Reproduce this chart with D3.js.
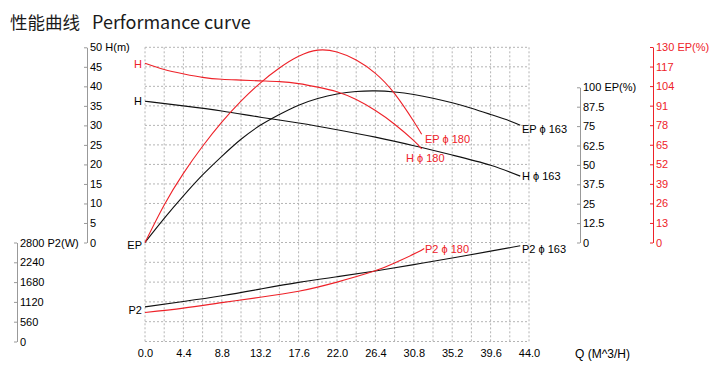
<!DOCTYPE html>
<html>
<head>
<meta charset="utf-8">
<script src="https://cdn.jsdelivr.net/npm/d3@7"></script>
<style>
  body { margin: 0; background: #fff; }
  text { font-family: "Liberation Sans", Arial, sans-serif; }
</style>
</head>
<body>
<div class="chart"></div>
<script>
// chart size
var width = 725;
var height = 372;
var red = "#ee2229";

// x ticks
var qTicks = [0, 4.4, 8.8, 13.2, 17.6, 22, 26.4, 30.8, 35.2, 39.6, 44];
var hTicks = [0, 5, 10, 15, 20, 25, 30, 35, 40, 45, 50];
var epTicks = [0, 12.5, 25, 37.5, 50, 62.5, 75, 87.5, 100];
var epRedTicks = [0, 13, 26, 39, 52, 65, 78, 91, 104, 117, 130];
var p2Ticks = [0, 560, 1120, 1680, 2240, 2800];

// phi 163 curves
var qH163 = [0, 4.4, 8.8, 13.2, 17.6, 22, 26.4, 30.8, 35.2, 39.6, 43];
var h163 = [36.2, 35.0, 33.7, 32.1, 30.6, 28.9, 27.0, 24.8, 22.4, 19.8, 17.0];
var qEP163 = [0, 2.2, 4.4, 6.6, 8.8, 11, 13.2, 15.4, 17.6, 19.8, 22, 24.2, 26.4, 28.6, 30.8, 33, 35.2, 37.4, 39.6, 41.8, 43];
var ep163 = [0, 15.5, 30, 43.5, 55.5, 66.5, 75.5, 82.5, 88.5, 92.8, 95.7, 97.3, 97.7, 97, 95.4, 93, 90, 86.5, 82.5, 78.3, 75.5];
var qP163 = [0, 4.4, 8.8, 13.2, 17.6, 22, 26.4, 30.8, 35.2, 39.6, 43];
var p163 = [980, 1131, 1293, 1482, 1671, 1831, 1995, 2174, 2360, 2556, 2706];

// phi 180 curves
var qH180 = [0, 2.2, 4.4, 6.6, 8.8, 11, 13.2, 15.4, 17.6, 19.8, 22, 24.2, 26.4, 28.6, 30.8, 31.7];
var h180 = [45.9, 44.3, 43.2, 42.3, 41.8, 41.6, 41.4, 41.2, 40.7, 39.8, 38.6, 36.6, 33.8, 30.3, 26.1, 24.0];
var qEP180 = [0, 2.2, 4.4, 6.6, 8.8, 11, 13.2, 15.4, 17.6, 19.8, 22, 24.2, 26.4, 28.6, 30.8, 31.7];
var ep180 = [0, 25, 46, 64, 80, 94, 106, 116, 123.8, 127.9, 126.7, 121.3, 112.5, 99, 80.5, 72];
var qP180 = [0, 4.4, 8.8, 13.2, 17.6, 22, 26.2, 28.6, 31.1, 32];
var p180 = [819, 944, 1100, 1250, 1420, 1680, 1984, 2220, 2507, 2630];

var svg = d3.select(".chart")
            .append("svg")
            .attr("width", width)
            .attr("height", height);

// scales
var x = d3.scaleLinear().domain([0, 44]).range([145, 529]);
var yH = d3.scaleLinear().domain([0, 50]).range([242.5, 47.3]);
var yEP = d3.scaleLinear().domain([0, 100]).range([242.5, 87.3]);
var yEPr = d3.scaleLinear().domain([0, 130]).range([242.5, 47]);
var yP2 = d3.scaleLinear().domain([0, 2800]).range([341.5, 242.5]);

// title
svg.append("text")
   .attr("x", 10).attr("y", 29)
   .style("font-family", "'Noto Sans CJK SC', sans-serif")
   .style("font-size", "17.5px")
   .attr("fill", "#1a1a1a")
   .text("性能曲线");
svg.append("text")
   .attr("x", 92).attr("y", 29)
   .style("font-family", "'Noto Sans CJK SC', 'Noto Sans', sans-serif")
   .style("font-size", "18px")
   .attr("fill", "#1a1a1a")
   .text("Performance curve");

// grid
var grid = svg.append("g").attr("stroke", "#b4b4b4").attr("stroke-dasharray", "2,2").attr("stroke-width", 1);
d3.range(0, 44.01, 2.2).forEach(function(q) {
  grid.append("line")
      .attr("x1", x(q)).attr("x2", x(q))
      .attr("y1", yH(50)).attr("y2", yP2(0));
});
hTicks.forEach(function(h) {
  grid.append("line").attr("x1", x(0)).attr("x2", x(44)).attr("y1", yH(h)).attr("y2", yH(h));
});
p2Ticks.slice(0, 5).forEach(function(p) {
  grid.append("line").attr("x1", x(0)).attr("x2", x(44)).attr("y1", yP2(p)).attr("y2", yP2(p));
});

// axes, ticks on the left, labels on the right
function sideAxis(scale, ticks, unit, xpos, color) {
  var ax = d3.axisRight(scale)
             .tickValues(ticks)
             .tickSizeInner(-3)
             .tickSizeOuter(0)
             .tickPadding(3)
             .tickFormat(function(d, i) {
               return i == ticks.length - 1 ? d + " " + unit : d;
             });
  var g = svg.append("g")
             .attr("transform", "translate(" + xpos + ",0)")
             .call(ax);
  g.select(".domain").attr("stroke", color == "#000" ? "#999" : color);
  g.selectAll(".tick line").attr("stroke", color == "#000" ? "#999" : color);
  g.selectAll("text").attr("fill", color).style("font-size", "11px");
  return g;
}
sideAxis(yH, hTicks, "H(m)", 87, "#000");
sideAxis(yP2, p2Ticks, "P2(W)", 17, "#000");
sideAxis(yEP, epTicks, "EP(%)", 580, "#000");
sideAxis(yEPr, epRedTicks, "EP(%)", 653, red);

var xAxis = d3.axisBottom(x)
              .tickValues(qTicks)
              .tickSize(0)
              .tickPadding(8)
              .tickFormat(d3.format(".1f"));
var gx = svg.append("g")
            .attr("transform", "translate(0," + yP2(0) + ")")
            .call(xAxis);
gx.select(".domain").remove();
gx.selectAll("text").attr("fill", "#000").style("font-size", "11px");
svg.append("text")
   .attr("x", 575).attr("y", 358)
   .style("font-size", "12px")
   .text("Q (M^3/H)");

// curves
function curve(qs, vs, yScale, color) {
  var pts = qs.map(function(q, i) { return [q, vs[i]]; });
  var line = d3.line()
               .x(function(d) { return x(d[0]); })
               .y(function(d) { return yScale(d[1]); })
               .curve(d3.curveNatural);
  svg.append("path")
     .datum(pts)
     .attr("d", line)
     .attr("fill", "none")
     .attr("stroke", color)
     .attr("stroke-width", 1.1);
}
curve(qH163, h163, yH, "#111");
curve(qEP163, ep163, yEP, "#111");
curve(qP163, p163, yP2, "#111");
curve(qH180, h180, yH, red);
curve(qEP180, ep180, yEPr, red);
curve(qP180, p180, yP2, red);

// curve labels
function label(txt, xp, yp, color, anchor) {
  svg.append("text")
     .attr("x", xp).attr("y", yp)
     .attr("dy", "0.35em")
     .attr("text-anchor", anchor || "start")
     .attr("fill", color)
     .style("font-size", "11px")
     .text(txt);
}
label("H", 142, yH(h180[0]) + 1, red, "end");
label("H", 142, yH(h163[0]), "#000", "end");
label("EP", 142, yEP(0) + 3, "#000", "end");
label("P2", 142, yP2(p163[0]) + 3, "#000", "end");
label("EP ϕ 163", 522, yEP(ep163[ep163.length - 1]) + 4, "#000");
label("H ϕ 163", 522, yH(h163[h163.length - 1]), "#000");
label("P2 ϕ 163", 522, yP2(p163[p163.length - 1]) + 3, "#000");
label("EP ϕ 180", 425, yEPr(ep180[ep180.length - 1]) + 5, red);
label("H ϕ 180", 406, yH(h180[h180.length - 1]) + 9, red);
label("P2 ϕ 180", 425, yP2(p180[p180.length - 1]) + 1, red);
</script>
</body>
</html>
